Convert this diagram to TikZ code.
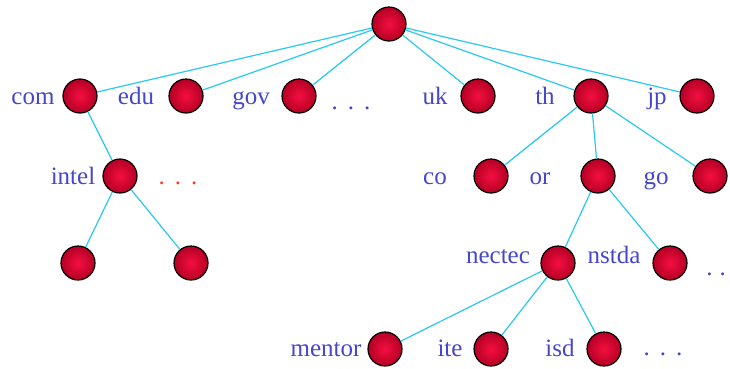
\documentclass[tikz,border=0pt]{standalone}
\usepackage{fontspec}
\setmainfont{Liberation Serif}
\definecolor{edgec}{RGB}{40,200,240}
\definecolor{lblc}{RGB}{70,70,205}
\definecolor{dotr}{RGB}{240,70,30}
\definecolor{ballin}{RGB}{245,15,65}
\definecolor{ballout}{RGB}{180,0,35}
\begin{document}
\begin{tikzpicture}[x=1pt,y=-1pt,
  ball/.style={circle, minimum size=34pt, inner sep=0pt, draw=black, line width=1.2pt, inner color=ballin, outer color=ballout},
  lbl/.style={anchor=base, text=lblc, font=\fontsize{25}{30}\selectfont, inner sep=0pt},
  dotsl/.style={lbl},
  link/.style={draw=edgec, line width=1.2pt}]
\useasboundingbox (0,0) rectangle (730,368);
% nodes
\node[ball] (root) at (389,24) {};
\node[ball] (com) at (80,96) {};
\node[ball] (edu) at (186,96) {};
\node[ball] (gov) at (299,96) {};
\node[ball] (uk) at (478,96) {};
\node[ball] (th) at (591,96) {};
\node[ball] (jp) at (697,96) {};
\node[ball] (intel) at (120,176) {};
\node[ball] (l1) at (78,263) {};
\node[ball] (l2) at (191,263) {};
\node[ball] (co) at (491,176) {};
\node[ball] (or) at (598,176) {};
\node[ball] (go) at (710,176) {};
\node[ball] (nectec) at (558,263) {};
\node[ball] (nstda) at (670,263) {};
\node[ball] (mentor) at (385,349) {};
\node[ball] (ite) at (491,349) {};
\node[ball] (isd) at (604,349) {};
% labels
\node[lbl] (tcom) at (33,104) {com};
\node[lbl] (tedu) at (136,104) {edu};
\node[lbl] (tgov) at (251,104) {gov};
\node[lbl] (tuk) at (435,104) {uk};
\node[lbl] (tth) at (545,104) {th};
\node[lbl] (tjp) at (657,104) {jp};
\node[lbl] (tintel) at (73,184) {intel};
\node[lbl] (tco) at (435,184) {co};
\node[lbl] (tor) at (540,184) {or};
\node[lbl] (tgo) at (656,184) {go};
\node[lbl] (tnectec) at (498,263) {nectec};
\node[lbl] (tnstda) at (614,263) {nstda};
\node[lbl] (tmentor) at (326,356) {mentor};
\node[lbl] (tite) at (450,356) {ite};
\node[lbl] (tisd) at (560,356) {isd};
% ellipses
\node[dotsl] (d1) at (351,109) {.\hspace{10pt}.\hspace{10pt}.};
\node[dotsl, text=dotr] (d2) at (178,184) {.\hspace{10pt}.\hspace{10pt}.};
\node[dotsl] (d3) at (663,355) {.\hspace{10pt}.\hspace{10pt}.};
\node[dotsl] (d4) at (716,275) {.\hspace{7pt}.};
% links
\foreach \c in {com,edu,gov,uk,th,jp} \draw[link] (root) -- (\c);
\draw[link] (com) -- (intel);
\draw[link] (intel) -- (l1);
\draw[link] (intel) -- (l2);
\foreach \c in {co,or,go} \draw[link] (th) -- (\c);
\draw[link] (or) -- (nectec);
\draw[link] (or) -- (nstda);
\foreach \c in {mentor,ite,isd} \draw[link] (nectec) -- (\c);
\end{tikzpicture}
\end{document}
